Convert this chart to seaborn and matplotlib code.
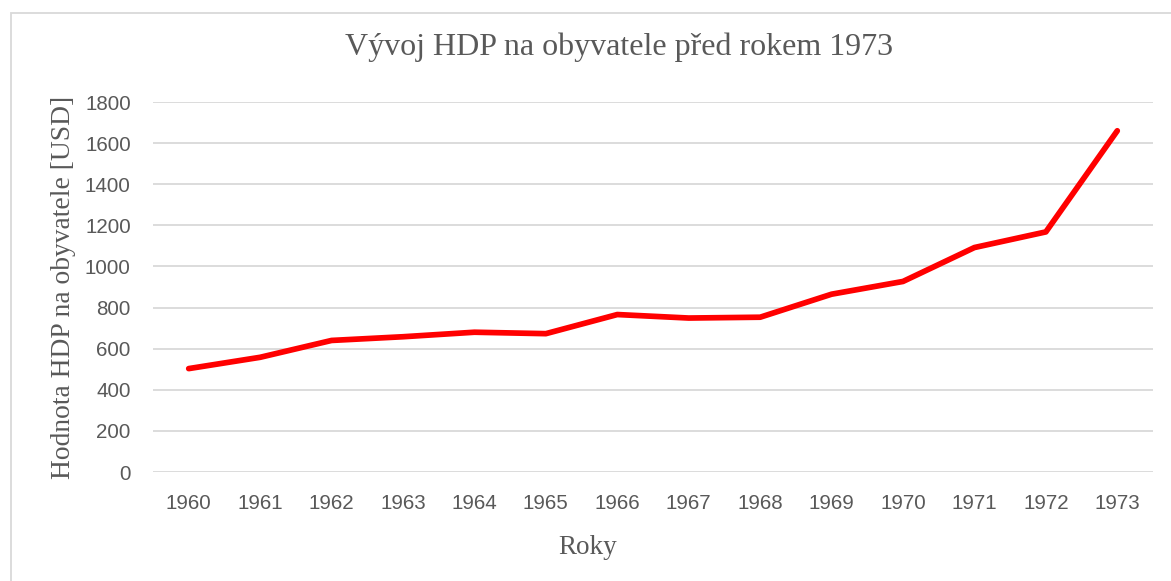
import matplotlib
matplotlib.use("Agg")
import matplotlib.pyplot as plt
import seaborn as sns
import pandas as pd
from matplotlib.patches import Rectangle

# data
years = [1960, 1961, 1962, 1963, 1964, 1965, 1966, 1967, 1968, 1969, 1970, 1971, 1972, 1973]
gdp_per_capita = [503, 558, 640, 658, 680, 673, 766, 749, 753, 865, 927, 1092, 1168, 1660]
y_ticks = [0, 200, 400, 600, 800, 1000, 1200, 1400, 1600, 1800]

title = "Vývoj HDP na obyvatele před rokem 1973"
x_label = "Roky"
y_label = "Hodnota HDP na obyvatele [USD]"

df = pd.DataFrame({"rok": years, "hdp": gdp_per_capita})

sns.set_theme(style="white")
plt.rcParams['font.family'] = ['Liberation Sans', 'DejaVu Sans']

W, H = 1171, 581
fig = plt.figure(figsize=(W / 100, H / 100), dpi=100)
ax = fig.add_axes([153 / W, 1 - 472 / H, 1000 / W, 370 / H])

sns.lineplot(data=df, x="rok", y="hdp", ax=ax, color="#FF0000", linewidth=4.1,
             solid_capstyle="round", solid_joinstyle="round", zorder=3)

ax.set_xlim(years[0] - 0.5, years[-1] + 0.5)
ax.set_ylim(0, 1800)
ax.set_xticks(years)
ax.set_xticklabels([str(y) for y in years])
ax.set_yticks(y_ticks)
ax.set_yticklabels([str(v) for v in y_ticks])

for y in y_ticks:
    ax.axhline(y, color="#D9D9D9", linewidth=1.3, zorder=1)

for s in ax.spines.values():
    s.set_visible(False)
ax.tick_params(axis="both", length=0, labelsize=14.8, labelcolor="#595959")
ax.tick_params(axis="x", pad=16)
ax.tick_params(axis="y", pad=16)

serif = ['Liberation Serif', 'DejaVu Serif']
ax.set_xlabel(x_label, family=serif, fontsize=19.5, color="#595959")
ax.set_ylabel(y_label, family=serif, fontsize=19.8, color="#595959")
ax.xaxis.set_label_coords(0.435, -0.205)
ax.xaxis.label.set_va("center")
ax.yaxis.set_label_coords(-0.089, 0.5)
ax.yaxis.label.set_va("center")

fig.text(619.5 / W, 1 - 47 / H, title, family=serif, fontsize=23, color="#595959",
         ha="center", va="center")

# chart border (only left and top edges visible)
fig.patches.append(Rectangle((11 / W, -0.1), 1.2, 1 - 13 / H + 0.1, transform=fig.transFigure,
                             fill=False, edgecolor="#D9D9D9", linewidth=1.3))

fig.savefig("out.png", dpi=100)
